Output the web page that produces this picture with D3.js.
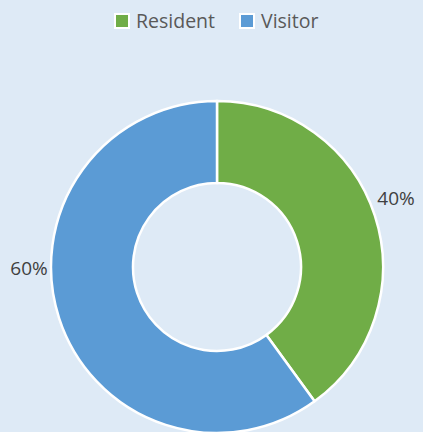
<!DOCTYPE html>
<meta charset="utf-8">
<style>
  body { margin: 0; background: #deeaf6; }
  text { font-family: "Open Sans", "Liberation Sans", sans-serif; fill: #404040; }
</style>
<body>
<script src="https://cdn.jsdelivr.net/npm/d3@7"></script>
<script>
  var categories = ["Resident", "Visitor"];
  var values = [40, 60];
  var colors = ["#70ad47", "#5b9bd5"];

  var width = 423, height = 432;
  var cx = 217, cy = 267, outer = 166, inner = 84;

  var svg = d3.select("body").append("svg")
    .attr("width", width)
    .attr("height", height);

  var color = d3.scaleOrdinal().domain(categories).range(colors);

  var pie = d3.pie().sort(null).value(function (d) { return d.v; });
  var data = pie(categories.map(function (c, i) { return { c: c, v: values[i] }; }));

  var arc = d3.arc().innerRadius(inner).outerRadius(outer);

  var g = svg.append("g").attr("transform", "translate(" + cx + "," + cy + ")");

  g.selectAll("path")
    .data(data)
    .enter().append("path")
    .attr("d", arc)
    .style("fill", function (d) { return color(d.data.c); })
    .style("stroke", "#fff")
    .style("stroke-width", 2.5);

  // percentage labels, placed outside the ring like excel does
  var labelPos = { Resident: [179, -69], Visitor: [-188, 1] };
  g.selectAll("text.lbl")
    .data(data)
    .enter().append("text")
    .attr("class", "lbl")
    .attr("x", function (d) { return labelPos[d.data.c][0]; })
    .attr("y", function (d) { return labelPos[d.data.c][1]; })
    .attr("dy", "0.35em")
    .attr("text-anchor", "middle")
    .style("font-size", "19px")
    .text(function (d) { return d.data.v + "%"; });

  // legend
  var legend = svg.append("g").attr("transform", "translate(0,21)");
  var lx = [115, 240];
  var item = legend.selectAll("g")
    .data(categories)
    .enter().append("g")
    .attr("transform", function (d, i) { return "translate(" + lx[i] + ",0)"; });

  item.append("rect")
    .attr("x", 0).attr("y", -7)
    .attr("width", 14).attr("height", 14)
    .style("fill", function (d) { return color(d); })
    .style("stroke", "#fff")
    .style("stroke-width", 2);

  item.append("text")
    .attr("x", 21)
    .attr("dy", "0.35em")
    .style("font-size", "19.5px")
    .style("fill", "#595959")
    .text(function (d) { return d; });
</script>
</body>
</html>
